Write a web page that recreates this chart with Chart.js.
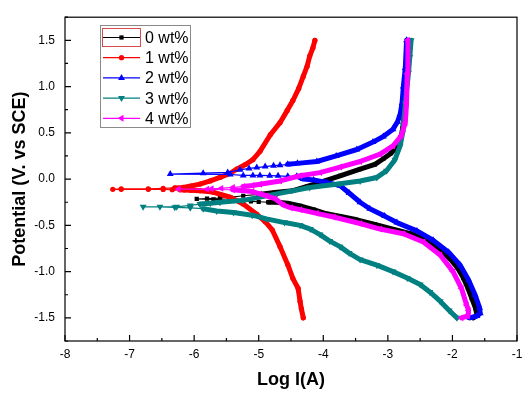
<!DOCTYPE html>
<html>
<head>
<meta charset="utf-8">
<script src="https://cdn.jsdelivr.net/npm/chart.js@4.4.0/dist/chart.umd.min.js"></script>
<style>
  html, body { margin: 0; padding: 0; background: #fff; }
</style>
</head>
<body>
<canvas id="chart-tafel" width="532" height="393"></canvas>
<script>
const seriesLabels = ['0 wt%', '1 wt%', '2 wt%', '3 wt%', '4 wt%']
const xTicks = [-8, -7, -6, -5, -4, -3, -2, -1]
const yTicks = [-1.5, -1.0, -0.5, 0, 0.5, 1.0, 1.5]

// each series: scan from -1.5 V (cathodic) through Ecorr up to 1.5 V (anodic)
const logI0 = [-1.68, -1.62, -1.64, -1.70, -1.76, -1.83, -1.92, -2.04, -2.20, -2.40, -2.65, -2.92, -3.20, -3.48, -3.75, -3.95, -4.15, -4.36, -4.55, -4.72, -4.85, -5.00, -5.12, -5.30, -5.45, -5.70, -5.96,
  -5.80, -5.60, -5.44, -5.24, -5.00, -4.75, -4.47, -4.25, -4.05, -3.74, -3.43, -3.20, -3.07, -2.95, -2.86, -2.80, -2.77, -2.74, -2.72, -2.71, -2.70]
const pot0 = [-1.50, -1.47, -1.40, -1.29, -1.18, -1.07, -0.96, -0.86, -0.76, -0.66, -0.59, -0.54, -0.49, -0.44, -0.40, -0.375, -0.33, -0.29, -0.26, -0.25, -0.25, -0.245, -0.24, -0.235, -0.23, -0.22, -0.215,
  -0.21, -0.205, -0.196, -0.18, -0.165, -0.145, -0.125, -0.08, -0.035, 0.036, 0.107, 0.16, 0.22, 0.28, 0.35, 0.43, 0.55, 0.75, 1.0, 1.25, 1.50]

const logI1 = [-4.31, -4.34, -4.36, -4.39, -4.47, -4.55, -4.67, -4.79, -4.90, -5.03, -5.24, -5.44, -5.71, -5.91, -6.05, -6.15, -6.22, -6.34, -6.48, -6.71, -7.13, -7.26,
  -7.13, -6.71, -6.48, -6.30, -6.17, -6.05, -5.91, -5.75, -5.60, -5.45, -5.34, -5.20, -5.09, -4.98, -4.82, -4.67, -4.56, -4.47, -4.38, -4.31, -4.25, -4.21, -4.16, -4.13]
const pot1 = [-1.50, -1.40, -1.32, -1.18, -1.075, -0.925, -0.73, -0.55, -0.46, -0.38, -0.27, -0.196, -0.14, -0.125, -0.12, -0.118, -0.115, -0.115, -0.112, -0.11, -0.11, -0.11,
  -0.105, -0.105, -0.10, -0.095, -0.09, -0.075, -0.054, -0.02, 0.018, 0.06, 0.107, 0.16, 0.21, 0.30, 0.48, 0.61, 0.74, 0.85, 0.98, 1.11, 1.22, 1.33, 1.42, 1.50]

const logI2 = [-1.73, -1.62, -1.57, -1.58, -1.65, -1.75, -1.88, -2.06, -2.30, -2.55, -2.86, -3.05, -3.28, -3.43, -3.60, -3.74, -3.95, -4.15, -4.31, -4.41, -4.55, -4.70, -4.83, -4.98, -5.09, -5.24, -5.44, -6.37,
  -5.86, -5.48, -5.29, -5.15, -5.03, -4.90, -4.77, -4.67, -4.55, -4.40, -4.10, -3.80, -3.48, -3.23, -3.07, -2.92, -2.85, -2.81, -2.78, -2.76, -2.73, -2.71]
const pot2 = [-1.50, -1.48, -1.45, -1.39, -1.25, -1.09, -0.93, -0.79, -0.66, -0.56, -0.47, -0.40, -0.32, -0.25, -0.15, -0.07, -0.035, -0.01, 0.0, 0.03, 0.03, 0.035, 0.037, 0.04, 0.04, 0.04, 0.05, 0.054,
  0.064, 0.072, 0.10, 0.115, 0.125, 0.135, 0.145, 0.15, 0.16, 0.17, 0.19, 0.25, 0.32, 0.40, 0.46, 0.54, 0.62, 0.70, 0.82, 1.0, 1.2, 1.5]

const logI3 = [-1.93, -2.05, -2.19, -2.35, -2.50, -2.70, -2.92, -3.17, -3.43, -3.60, -3.74, -3.90, -4.05, -4.20, -4.36, -4.60, -4.88, -5.10, -5.39, -5.65, -5.86, -6.06, -6.30, -6.53, -6.79,
  -6.27, -6.06, -5.91, -5.75, -5.60, -5.24, -4.72, -4.21, -3.74, -3.43, -3.17, -3.02, -2.89, -2.81, -2.77, -2.73, -2.68, -2.66, -2.64]
const pot3 = [-1.50, -1.42, -1.32, -1.22, -1.14, -1.07, -1.00, -0.93, -0.87, -0.80, -0.73, -0.67, -0.60, -0.54, -0.50, -0.47, -0.43, -0.39, -0.36, -0.345, -0.32, -0.31, -0.305, -0.30, -0.30,
  -0.30, -0.285, -0.27, -0.26, -0.25, -0.23, -0.16, -0.09, -0.05, -0.02, 0.018, 0.09, 0.21, 0.36, 0.50, 0.82, 1.15, 1.32, 1.50]

const logI4 = [-1.86, -1.76, -1.75, -1.78, -1.86, -1.99, -2.19, -2.45, -2.76, -3.12, -3.43, -3.84, -4.10, -4.36, -4.50, -4.62, -4.75, -4.88, -4.98, -5.10, -5.40, -5.80, -6.24,
  -5.73, -5.58, -5.40, -5.24, -5.10, -4.98, -4.67, -4.36, -4.05, -3.74, -3.43, -3.12, -2.92, -2.79, -2.73, -2.71, -2.70, -2.69]
const pot4 = [-1.50, -1.48, -1.42, -1.36, -1.18, -1.00, -0.82, -0.68, -0.59, -0.54, -0.48, -0.41, -0.37, -0.33, -0.31, -0.28, -0.21, -0.18, -0.16, -0.135, -0.115, -0.11, -0.107,
  -0.105, -0.10, -0.09, -0.08, -0.07, -0.055, -0.02, 0.036, 0.07, 0.13, 0.19, 0.27, 0.36, 0.47, 0.61, 0.82, 1.14, 1.50]

const pairs = (xs, ys) => xs.map((x, i) => ({ x, y: ys[i] }))

// near Ecorr the original markers are sparse and joined by a thin line
const makeSeries = (i, xs, ys, color, style, rotation, radius, thinBelow) => ({
  label: seriesLabels[i],
  data: pairs(xs, ys),
  showLine: true,
  order: 4 - i,
  borderColor: color,
  backgroundColor: color,
  borderWidth: 1.2,
  borderJoinStyle: 'round',
  borderCapStyle: 'round',
  pointStyle: style,
  pointRotation: rotation,
  pointRadius: radius,
  pointBorderWidth: 0,
  pointBackgroundColor: color,
  segment: {
    borderWidth: ctx => (ctx.p0.parsed.x < thinBelow && ctx.p1.parsed.x < thinBelow) ? 1.2 : 5,
  },
})

const framePlugin = {
  id: 'frame',
  afterDatasetsDraw (chart) {
    const { ctx, chartArea: a, scales: { x, y } } = chart
    ctx.save()
    ctx.strokeStyle = '#000'
    ctx.lineWidth = 1.2
    ctx.strokeRect(a.left, a.top, a.right - a.left, a.bottom - a.top)

    ctx.beginPath()
    xTicks.forEach((v, i) => {
      const px = x.getPixelForValue(v)
      ctx.moveTo(px, a.bottom)
      ctx.lineTo(px, a.bottom - 6)
      if (i < xTicks.length - 1) {
        const mx = x.getPixelForValue(v + 0.5)
        ctx.moveTo(mx, a.bottom)
        ctx.lineTo(mx, a.bottom - 3)
      }
    })
    const yMinor = [-1.75, ...yTicks.map(v => v + 0.25)]
    yTicks.forEach(v => {
      const py = y.getPixelForValue(v)
      ctx.moveTo(a.left, py)
      ctx.lineTo(a.left + 6, py)
    })
    yMinor.forEach(v => {
      const py = y.getPixelForValue(v)
      ctx.moveTo(a.left, py)
      ctx.lineTo(a.left + 3, py)
    })
    ctx.stroke()

    // legend box
    ctx.fillStyle = '#fff'
    ctx.fillRect(100.5, 25.5, 90, 102)
    ctx.strokeStyle = '#8a8a8a'
    ctx.lineWidth = 1
    ctx.strokeRect(100.5, 25.5, 90, 102)
    ctx.font = "16px 'Liberation Sans', Arial, sans-serif"
    ctx.textBaseline = 'middle'
    chart.data.datasets.forEach((ds, i) => {
      const yy = 37.5 + i * 20.2
      ctx.strokeStyle = ds.borderColor
      ctx.lineWidth = 1.2
      ctx.beginPath()
      ctx.moveTo(103, yy)
      ctx.lineTo(140, yy)
      ctx.stroke()
      ctx.fillStyle = ds.borderColor
      if (Chart.helpers && Chart.helpers.drawPoint) {
        Chart.helpers.drawPoint(ctx, { pointStyle: ds.pointStyle, radius: ds.pointRadius, rotation: ds.pointRotation, borderWidth: 0 }, 121.5, yy)
      }
      ctx.fillStyle = '#000'
      ctx.fillText(ds.label, 145, yy + 1)
    })
    ctx.strokeStyle = '#d94a4a'
    ctx.lineWidth = 1
    ctx.strokeRect(102.5, 28.5, 38, 18)
    ctx.restore()
  },
}

Chart.defaults.font.family = "'Liberation Sans', Arial, sans-serif"
Chart.defaults.color = '#000'

new Chart(document.getElementById('chart-tafel').getContext('2d'), {
  type: 'scatter',
  data: {
    datasets: [
      makeSeries(0, logI0, pot0, '#000000', 'rect', 0, 3, -4.8),
      makeSeries(1, logI1, pot1, '#ff0000', 'circle', 0, 2.6, -6.2),
      makeSeries(2, logI2, pot2, '#0000ff', 'triangle', 0, 4, -4.4),
      makeSeries(3, logI3, pot3, '#008080', 'triangle', 180, 4, -5.85),
      makeSeries(4, logI4, pot4, '#ff00ff', 'triangle', -90, 4, -5.2),
    ],
  },
  options: {
    responsive: false,
    animation: false,
    layout: { padding: { top: 12, right: 15, left: 0, bottom: 0 } },
    plugins: {
      legend: { display: false },
      tooltip: { enabled: false },
    },
    scales: {
      x: {
        type: 'linear',
        min: -8,
        max: -1,
        afterBuildTicks: s => { s.ticks = xTicks.map(v => ({ value: v })) },
        afterFit: s => { s.height = 52 },
        grid: { display: false, drawTicks: false },
        border: { display: false },
        ticks: { padding: 6, font: { size: 12 }, maxRotation: 0, autoSkip: false, callback: v => String(v) },
        title: { display: true, text: 'Log I(A)', font: { size: 18, weight: 'bold' }, padding: { top: 0, bottom: 2 } },
      },
      y: {
        type: 'linear',
        min: -1.75,
        max: 1.75,
        afterBuildTicks: s => { s.ticks = yTicks.map(v => ({ value: v })) },
        afterFit: s => { s.width = 65 },
        grid: { display: false, drawTicks: false },
        border: { display: false },
        ticks: { padding: 10, font: { size: 12 }, autoSkip: false, callback: v => v.toFixed(1) },
        title: { display: true, text: 'Potential (V. vs SCE)', font: { size: 18, weight: 'bold' }, padding: { top: 9, bottom: 0 } },
      },
    },
  },
  plugins: [framePlugin],
})
</script>
</body>
</html>
